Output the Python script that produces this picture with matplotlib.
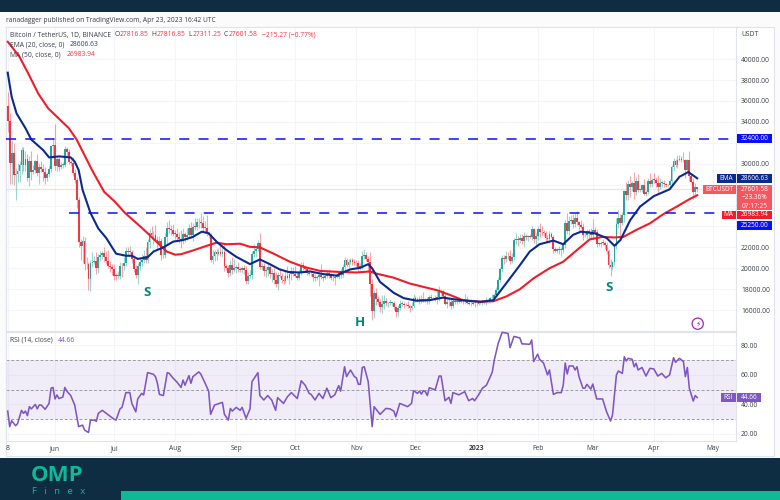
import matplotlib
matplotlib.use("Agg")
import matplotlib.pyplot as plt
from matplotlib.patches import Rectangle, Circle
from matplotlib.ticker import FuncFormatter

FONT = "Open Sans"
plt.rcParams["font.family"] = [FONT, "DejaVu Sans"]

first_open = 35470
closes = [
 # May 8-31
 34040,30080,31020,28930,29030,29280,29860,31300,29830,30420,28680,30290,29170,29430,30300,29090,29640,29540,29190,28630,29020,29450,31720,31790,
 # Jun
 29800,30450,29700,29860,29900,31370,31130,30200,30110,29090,28420,26570,22490,22130,22580,20380,20450,19000,20550,20570,20720,19990,21100,21230,21500,21040,20730,20260,20100,19950,
 # Jul
 19280,19250,19310,20230,20180,20550,21630,21590,21590,20860,19970,19330,20210,20580,20830,21190,20780,22480,23390,23230,23160,22680,22450,22580,21300,21240,22960,23850,23770,23640,23300,
 # Aug
 23270,22980,22820,22620,23310,22950,23170,23810,23150,23950,23930,24400,24440,24300,23850,23880,23330,23210,20830,21140,21520,21400,21530,21370,21560,20240,20040,19550,20280,19810,20050,
 # Sep
 20130,19950,19830,20000,19800,18790,19290,19320,21360,21650,21830,22400,20170,20230,19700,19800,20110,19420,19540,18880,18490,19400,19290,18920,18800,19230,19080,19410,19590,19420,
 # Oct
 19310,19050,19620,20340,20160,19950,19530,19420,19440,19130,19060,19150,19380,19180,19070,19260,19550,19330,19120,19040,19160,19200,19570,19330,20090,20770,20290,20590,20820,20630,20490,
 # Nov
 20480,20150,20210,21150,21300,20920,20600,18540,15880,17600,17070,16810,16330,16620,16900,16660,16690,16700,16700,16280,15780,16220,16600,16600,16520,16460,16430,16210,16440,17170,
 # Dec
 16970,17090,16890,17110,16970,17090,16840,17230,17130,17130,17090,17210,17780,17810,17360,16630,16780,16740,16440,16900,16820,16830,16780,16840,16830,16920,16700,16550,16630,16600,16540,
 # Jan
 16620,16670,16670,16850,16830,16950,16940,17120,17180,17440,17940,18850,19930,20950,20870,21170,21130,20670,21080,22670,22780,22710,22920,22630,23060,23010,23070,23030,23740,22830,23120,
 # Feb
 23730,23490,23430,23330,22930,22760,23240,22960,21800,21630,21860,21780,21780,22200,24330,23520,24570,24630,24280,24840,24440,24180,23950,23190,23160,23550,23490,23140,
 # Mar
 23630,23470,22360,22350,22430,22410,22190,21700,20360,20150,20630,22160,24200,24770,24370,25050,27420,26970,28040,27800,28170,27300,28300,27490,27490,28000,27140,27270,28350,28030,28480,
 # Apr
 28470,28190,27810,28170,28170,28040,27920,27950,28330,29650,30230,29890,30400,30490,30320,30320,29430,30390,28820,28250,27260,27817,27602,
]
# wick length beyond the candle body, in hundreds of USD
wick_up = [
 14,8,12,10,6,8,4,3,3,8,5,4,9,4,1,6,4,6,4,5,2,4,1,7,
 20,2,2,3,3,3,2,3,2,5,4,3,2,3,5,4,6,2,2,10,5,8,3,4,2,5,6,10,4,3,
 5,3,4,4,3,5,4,4,5,2,4,3,3,5,5,6,8,3,4,7,3,10,4,5,3,5,4,6,8,4,6,
 4,6,5,8,5,2,7,4,6,4,9,4,4,8,7,6,12,2,2,6,2,3,4,7,5,8,2,3,5,8,8,
 2,5,2,2,3,4,4,5,3,7,3,3,10,3,3,3,3,3,4,5,8,2,6,3,3,5,10,3,5,5,
 8,3,3,3,3,2,2,2,2,3,3,2,3,10,2,1,3,4,2,3,2,1,2,4,3,3,2,3,2,2,3,
 3,3,3,5,5,3,3,10,4,3,5,3,3,8,5,3,1,4,1,2,1,3,4,3,2,2,4,1,3,4,
 2,2,3,3,6,1,2,2,3,1,3,6,5,2,1,2,4,5,3,3,2,2,4,1,1,6,4,2,4,3,3,
 2,2,2,1,1,3,1,1,4,2,3,3,2,3,3,5,4,6,4,2,6,3,4,4,4,2,1,2,3,1,3,
 3,6,6,2,2,3,3,2,2,2,1,3,3,3,3,10,4,5,6,4,6,1,4,4,2,2,2,4,
 11,3,3,2,2,4,2,3,1,5,1,2,6,8,4,3,1,8,4,8,2,10,4,7,2,1,5,1,3,8,2,
 6,3,7,5,3,3,1,1,2,2,3,2,4,3,2,8,1,1,8,2,4,3,0,
]
wick_down = [
 10,20,20,10,24,8,10,8,5,5,3,8,7,2,3,3,10,3,8,6,3,3,2,12,
 4,5,4,2,3,2,4,2,3,3,3,8,5,13,16,5,4,11,12,4,2,5,4,4,3,4,3,2,5,6,
 4,4,3,3,10,3,3,4,2,4,3,3,8,4,4,3,3,3,5,4,8,2,6,3,5,3,3,6,4,5,2,
 5,3,4,7,3,4,2,3,3,5,3,3,5,4,4,4,2,3,2,4,4,6,1,2,3,5,2,4,3,4,2,
 5,3,2,3,3,3,3,2,3,3,6,2,2,3,4,5,5,3,7,4,3,6,2,3,3,2,1,6,5,2,
 1,2,2,3,3,3,2,1,2,3,3,2,8,2,3,1,2,3,2,3,6,1,2,3,2,3,2,3,2,3,2,
 3,4,3,3,3,2,10,12,8,6,6,3,5,6,5,3,4,2,3,3,4,3,2,2,3,1,2,4,2,2,
 2,2,3,2,2,2,3,3,2,1,2,5,3,3,2,1,4,3,3,2,2,2,1,1,2,1,1,1,2,1,2,
 1,1,1,2,2,3,1,1,1,2,2,3,2,3,5,3,2,3,2,3,3,6,3,3,6,3,4,1,3,4,7,
 4,5,3,2,4,3,3,1,3,1,2,4,6,3,3,2,3,3,4,3,3,6,2,5,2,4,6,3,
 3,2,3,2,3,2,3,3,3,9,3,3,3,3,13,2,6,4,4,10,4,7,3,2,2,2,1,2,2,3,3,
 3,4,6,2,4,3,1,1,2,4,3,2,3,1,2,2,8,2,5,1,6,5,3,
]
first_day = -24  # May 8 2022, counted from Jun 1 2022

ema_days = [-24,-22,-19.5,-15,-12,-6,-3,2,8,10,12,14,18,22,26,31,36,39,42,47,50,55,60,65,70,74.5,78,82,87,92,99,104,109,114,118.5,124,129.5,136,143,146,150,155,159,161,165,172,177,183.5,190,197,202,209,216,222.5,229,236,241,246,253,258,263,267,274,280,284,287,292,297,304,312,317,321.5,326]
ema_vals = [38700,36400,34800,33400,32300,31300,30600,30700,30600,30200,29400,27500,25300,23800,22900,21400,21200,21200,20900,21050,21600,22000,22550,22700,23000,23500,23350,22550,21750,21100,20400,20850,20400,19900,19650,19600,19700,19450,19300,19600,19900,20050,20400,20000,18700,17650,17150,16900,16950,17200,17050,16900,16800,16950,18550,20300,21600,22300,22650,22300,23200,23500,23350,22900,22150,22700,24600,25900,26900,27550,28750,29200,28606]

ma_days = [-24,-22,-18,-13.5,-8.5,-3.5,2,7,11,14.5,18.5,22,25,30.5,35.5,41.5,46.5,51.5,56.7,61,64,70,77,82,87,94,99,104,111,119,126,134.5,144.7,153,160,163,172,180,194,200.5,207,216,222.5,229,236,243,251,258,265,271.5,278,284,288.5,295,302,309,315,322,326]
ma_vals = [41660,41200,40200,38600,36700,35300,34300,33400,32300,31000,29500,28300,27300,26350,25300,24300,23450,22550,21600,21300,21350,21700,22150,22450,22300,22350,22050,22000,21400,20650,20150,19750,19650,19600,19700,19500,19100,18550,17900,17450,16950,16800,16850,17300,18000,19050,20000,20630,21750,22770,23000,22950,23000,23660,24300,25200,25830,26600,26984]

rsi_days = [-24,-23,-22,-20,-19,-17,-16,-15,-14,-13,-12,-10,-9,-8,-7,-5,-3,-2,-1,0,1,2,4,5,6,8,10,12,14,15,17,18,20,21,22,24,27,30,31,33,34,36,38,39,41,42,44,45,47,50,51,52,53,55,57,58,60,62,64,65,66,68,69,70,73,74,76,78,79,81,82,85,86,88,89,90,92,94,95,97,99,100,103,104,106,108,110,112,113,116,118,120,123,125,127,129,130,132,134,136,138,140,142,144,145,147,148,150,152,153,154,155,156,157,159,161,162,165,168,170,172,173,175,179,181,182,184,185,186,187,188,189,190,193,195,196,198,200,201,202,205,208,210,212,213,215,217,219,221,222,223,225,227,230,231,233,236,237,241,242,243,245,246,248,250,251,253,255,257,258,259,260,261,263,264,265,266,268,269,270,272,273,275,278,280,282,283,285,286,288,289,290,291,293,294,295,296,298,300,302,304,306,308,310,312,314,315,317,319,320,321,322,324,325,326]
rsi_vals = [35.5,25,29,25.6,27,36,34,35.5,32.4,38.5,37,40,37,39.6,39.6,36.7,40.7,51,51.5,43.7,46.4,44,45,51.5,49,46,39.6,25,26,22.7,21,29.4,29.4,28.5,34,36,33,30,29.4,37,38,48,48,40.7,35,43.7,47.5,46.4,61.5,60.4,58.8,54.3,46.8,46,61.5,61,57.7,55,51.5,56.5,53,59.5,54.3,58.8,62,60.6,55,49,33.3,39.6,40,41.4,33.3,29.4,37.3,35.5,38,36,38,30.6,37,55.4,61.5,46,43,46,43,36,44.6,40.7,45.2,48,44,56,53,47.5,46.8,43,47.5,44,51,44.6,46.4,52.7,49,65.5,58.8,63.3,58.8,58,53.6,53.6,65,65.5,55.4,25,38.5,33.3,37.3,37,35.5,31.7,40.7,38.5,40.7,49.3,47.5,49,47,49.3,48.6,46,51.3,49.8,59.2,59.2,42.5,44.8,40.7,48,46.5,48.6,42.5,44,42.5,46.4,51,53,58.8,62,70,81.4,88.8,88,78.4,86,85,81,80.7,83.6,69,74,70.5,68,60,63.3,46.8,48,48,53,68,60.6,66,66,63.3,65.5,58.8,51,51,53.6,50.4,53.8,43.7,43.7,35,28.8,32.8,60,62.6,61,72.3,69.4,71.2,70.5,65.5,67.8,63.3,65,59.2,64.4,64,59.2,61,58,60,71.6,68.5,71.2,69,58.8,65,51,42.3,46,44.66]

resistance = 32400
support = 25250
last_price = 27601.58
price_ticks = [16000,18000,20000,22000,24000,26000,28000,30000,32000,34000,36000,38000,40000]
covered_ticks = [24000,26000,28000,32000]   # hidden behind the price tags in the reference
rsi_ticks = [20,40,60,80]
rsi_bands = [30,50,70]
month_days = [-24,0,30,61,92,122,153,183,214,245,273,304,334]
month_labels = ["8","Jun","Jul","Aug","Sep","Oct","Nov","Dec","2023","Feb","Mar","Apr","May"]

UP, DOWN = "#26a69a", "#f23645"
NAVY, RED, BLUE, PURPLE = "#0a2a8f", "#f01c28", "#0a10f5", "#7e57c2"
GRID, EDGE = "#f3f5fa", "#e0e3eb"
TEXT = "#3a3e4a"
W, H = 780, 500

fig = plt.figure(figsize=(W/100, H/100), dpi=100, facecolor="#fbfbfb")

def pane(x0, y0, x1, y1, z):
    return fig.add_axes([x0/W, 1-y1/H, (x1-x0)/W, (y1-y0)/H], zorder=z)

# page chrome below everything
bg = pane(0, 0, W, H, 0)
bg.set_xlim(0, W); bg.set_ylim(H, 0); bg.axis("off")
bg.add_patch(Rectangle((0, 0), W, 12, color="#0e2c42", lw=0))
bg.add_patch(Rectangle((5.5, 26.5), 768.5, 429.5, fc="white", ec=EDGE, lw=0.8))
bg.add_patch(Rectangle((0, 458), W, 42, color="#0e2c42", lw=0))
bg.add_patch(Rectangle((121, 491), W-121, 9, color="#10b996", lw=0))

XLIM = (-24.87, 345.7)
ax = pane(6, 27, 736, 331, 2)
rx = pane(6, 331.5, 736, 441, 2)
for a in (ax, rx):
    a.set_xlim(*XLIM)
    a.set_xticks(month_days)
    a.grid(True, color=GRID, lw=0.8)
    a.set_axisbelow(True)
    a.yaxis.tick_right()
    a.tick_params(length=0, labelsize=4.9, labelcolor=TEXT, pad=3.6)
    for s in a.spines.values():
        s.set_color(EDGE); s.set_linewidth(0.8)

# price pane
ax.set_ylim(14006, 43069)
ax.set_yticks(price_ticks)
ax.yaxis.set_major_formatter(FuncFormatter(lambda v, p: "" if round(v) in covered_ticks else f"{v:.2f}"))
ax.tick_params(axis="x", labelbottom=False)

days = [first_day + i for i in range(len(closes))]
opens = [first_open] + closes[:-1]
for d, o, c, u, l in zip(days, opens, closes, wick_up, wick_down):
    col = UP if c >= o else DOWN
    top, bot = max(o, c), min(o, c)
    ax.vlines(d, bot - l*100, top + u*100, color=col, lw=0.8, alpha=0.45, zorder=3)
    ax.bar(d, max(top-bot, 70), bottom=bot, width=0.92, color=col, lw=0, zorder=4)

ax.axhline(last_price, color="#f9c6c9", lw=0.9, ls=(0, (1, 0.6)), zorder=2)
ax.plot(ma_days, ma_vals, color=RED, lw=1.5, zorder=5, solid_joinstyle="round")
ax.plot(ema_days, ema_vals, color=NAVY, lw=1.5, zorder=6, solid_joinstyle="round")
dash = (0, (6.6, 6))
ax.plot([XLIM[0], XLIM[1]], [resistance]*2, color=BLUE, lw=1.1, ls=dash, zorder=7)
ax.plot([7.2, XLIM[1]], [support]*2, color=BLUE, lw=1.1, ls=dash, zorder=7)

# RSI pane
rx.set_ylim(15.26, 89.34)
rx.set_yticks(rsi_ticks)
rx.yaxis.set_major_formatter(FuncFormatter(lambda v, p: f"{v:.2f}"))
rx.axhspan(rsi_bands[0], rsi_bands[2], color=PURPLE, alpha=0.1, lw=0, zorder=1)
for b in rsi_bands:
    rx.axhline(b, color="#9a9ca6", lw=0.7, ls=(0, (3, 2)), zorder=2)
rx.plot(rsi_days, rsi_vals, color=PURPLE, lw=1.15, zorder=5, clip_on=False)
rx.set_xticklabels(month_labels)
rx.tick_params(axis="x", pad=3.2)
for t in rx.get_xticklabels():
    if t.get_text() == "2023":
        t.set_fontweight("bold")

# overlay in pixel space: text, tags
ov = pane(0, 0, W, H, 10)
ov.set_xlim(0, W); ov.set_ylim(H, 0); ov.axis("off"); ov.patch.set_alpha(0)

def txt(x, y, s, color=TEXT, size=4.9, ha="left", **kw):
    ov.text(x, y, s, color=color, fontsize=size, ha=ha, va="center", **kw)

txt(6, 20, "ranadagger published on TradingView.com, Apr 23, 2023 16:42 UTC", size=4.75)
txt(10, 35, "Bitcoin / TetherUS, 1D, BINANCE")
for x, lab, val in [(115, "O", "27816.85"), (151.7, "H", "27816.85"), (188, "L", "27311.25"), (224, "C", "27601.58")]:
    txt(x, 35, lab)
    txt(x+4.6, 35, val, color=DOWN)
txt(262, 35, "−215.27 (−0.77%)", color=DOWN)
txt(10, 45, "EMA (20, close, 0)")
txt(70, 45, "28606.63", color="#1c3d9c")
txt(10, 55, "MA (50, close, 0)")
txt(66.3, 55, "26983.94", color=DOWN)
txt(10, 340.3, "RSI (14, close)")
txt(58.3, 340.3, "44.66", color=PURPLE)
txt(741, 34, "USDT")

def tag(x0, x1, y0, y1, color, lines, alpha=1.0):
    ov.add_patch(Rectangle((x0, y0), x1-x0, y1-y0, fc=color, ec="none", alpha=alpha))
    step = (y1-y0)/len(lines)
    for i, s in enumerate(lines):
        txt((x0+x1)/2, y0+step*(i+0.5), s, color="white", ha="center", size=4.7)

tag(737, 772, 134, 143, "#0a10f5", ["32400.00"])
tag(717, 735.5, 174, 182.7, NAVY, ["EMA"])
tag(737, 772, 174, 182.7, NAVY, ["28606.63"])
tag(703, 735.5, 185, 194, "#f4575f", ["BTCUSDT"])
tag(737, 772, 185, 210.2, "#f4575f", ["27601.58", "−23.36%", "07:17:25"])
tag(722, 735.5, 210.7, 219.3, RED, ["MA"])
tag(737, 772, 210.7, 219.3, RED, ["26983.94"])
tag(737, 772, 221, 229.5, "#0a10f5", ["25250.00"])
tag(721, 735.5, 393, 402, PURPLE, ["RSI"])
tag(737, 761, 393, 402, PURPLE, ["44.66"])

for x, y, s in [(147, 292.5, "S"), (360, 322.5, "H"), (608.7, 287.3, "S")]:
    txt(x, y, s, color="#00897b", size=9.5, ha="center", fontweight="bold")

ov.add_patch(Circle((697.7, 323.7), 5.6, fc="white", ec="#9c27b0", lw=0.9))
ov.text(697.7, 323.7, "⚡", color="#9c27b0", fontsize=5.5, ha="center", va="center", family="DejaVu Sans")

# logo
ov.text(31, 475.5, "OMP", color="#10b996", fontsize=16, fontweight="bold", va="center", family="Open Sans")
ov.text(32, 491, "F   i   n   e   x", color="#10b996", fontsize=6.8, va="center", family="Open Sans")

fig.savefig("out.png", dpi=100, facecolor=fig.get_facecolor())
